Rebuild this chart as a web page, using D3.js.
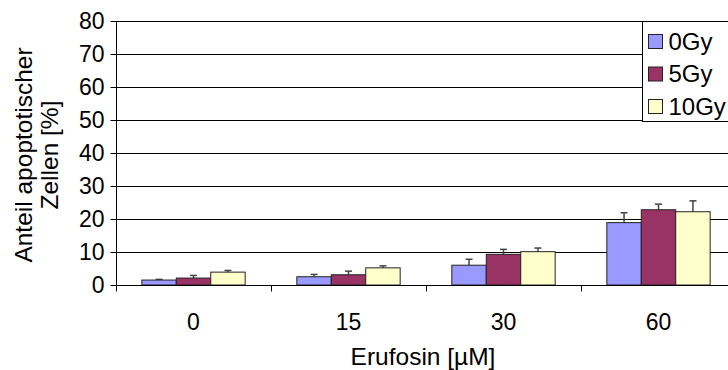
<!DOCTYPE html>
<html>
<head>
<meta charset="utf-8">
<script src="https://cdn.jsdelivr.net/npm/d3@7"></script>
<style>
  body { margin: 0; background: #fff; }
  svg text { font-family: "Liberation Sans", Arial, sans-serif; fill: #000; }
</style>
</head>
<body>
<svg id="chart" width="728" height="370"></svg>
<script>
var categories = ["0", "15", "30", "60"];
var seriesNames = ["0Gy", "5Gy", "10Gy"];
var seriesColors = ["#9999ff", "#993366", "#ffffcc"];
// mean values per series, one entry per category
var values0 = [1.5, 2.5, 6.0, 18.9];
var values5 = [2.1, 3.1, 9.3, 22.8];
var values10 = [3.9, 5.2, 10.1, 22.2];
// upper end of the error bars
var err0 = [1.7, 3.2, 7.8, 21.9];
var err5 = [2.9, 4.2, 10.8, 24.5];
var err10 = [4.4, 5.8, 11.2, 25.5];
var yTicks = [0, 10, 20, 30, 40, 50, 60, 70, 80];

var margin = {top: 21, left: 116},
  plotW = 620, plotH = 264;

var svg = d3.select("#chart");
var g = svg.append("g").attr("transform", "translate(" + margin.left + "," + margin.top + ")");

var x = d3.scaleBand().domain(categories).range([0, plotW]).paddingInner(0).paddingOuter(0);
// gap width 150%: 0.75 bar width on each side of a group
var x1 = d3.scaleBand().domain(seriesNames).range([0, x.bandwidth()]).paddingInner(0).paddingOuter(0.75);
var y = d3.scaleLinear().domain([0, 80]).range([plotH, 0]);

// gridlines
g.append("g").selectAll("line").data(yTicks.slice(1)).enter().append("line")
  .attr("x1", 0).attr("x2", plotW)
  .attr("y1", function(d) { return Math.round(y(d)) + 0.5; })
  .attr("y2", function(d) { return Math.round(y(d)) + 0.5; })
  .attr("stroke", "#000").attr("stroke-width", 1);

var series = [values0, values5, values10];
var errs = [err0, err5, err10];
var rows = [];
categories.forEach(function(c, i) {
  seriesNames.forEach(function(s, j) {
    rows.push({cat: c, s: s, v: series[j][i], e: errs[j][i], color: seriesColors[j]});
  });
});

// error bars (drawn behind bars, only upper part visible)
var eb = g.append("g").selectAll("g").data(rows).enter().append("g")
  .attr("stroke", "#444").attr("stroke-width", 1.5);
eb.append("line")
  .attr("x1", function(d) { return x(d.cat) + x1(d.s) + x1.bandwidth() / 2; })
  .attr("x2", function(d) { return x(d.cat) + x1(d.s) + x1.bandwidth() / 2; })
  .attr("y1", function(d) { return y(d.v); })
  .attr("y2", function(d) { return y(d.e); });
eb.append("line")
  .attr("x1", function(d) { return x(d.cat) + x1(d.s) + x1.bandwidth() / 2 - 3.5; })
  .attr("x2", function(d) { return x(d.cat) + x1(d.s) + x1.bandwidth() / 2 + 3.5; })
  .attr("y1", function(d) { return y(d.e); })
  .attr("y2", function(d) { return y(d.e); });

// bars
g.append("g").selectAll("rect").data(rows).enter().append("rect")
  .attr("x", function(d) { return x(d.cat) + x1(d.s); })
  .attr("y", function(d) { return y(d.v); })
  .attr("width", x1.bandwidth())
  .attr("height", function(d) { return y(0) - y(d.v); })
  .attr("fill", function(d) { return d.color; })
  .attr("stroke", "#222").attr("stroke-width", 1);

// y axis
var yAxis = d3.axisLeft(y).tickValues(yTicks).tickSize(6).tickPadding(6);
var ya = g.append("g").attr("transform", "translate(0.5,0)").call(yAxis);
ya.selectAll("path, line").attr("stroke", "#000");
ya.select(".domain").attr("d", "M0," + plotH + "V0");
ya.selectAll(".tick text").attr("font-size", 23).attr("font-family", "Liberation Sans, Arial, sans-serif").attr("fill", "#000");

// x axis
var xa = g.append("g").attr("transform", "translate(0," + (plotH + 0.5) + ")");
xa.append("line").attr("x1", 0).attr("x2", plotW).attr("stroke", "#000");
xa.selectAll(".xt").data(categories.concat(["end"])).enter().append("line")
  .attr("x1", function(d, i) { return Math.round(i * x.bandwidth()) + 0.5; })
  .attr("x2", function(d, i) { return Math.round(i * x.bandwidth()) + 0.5; })
  .attr("y1", 0).attr("y2", 6).attr("stroke", "#000");
xa.selectAll("text").data(categories).enter().append("text")
  .attr("x", function(d) { return x(d) + x.bandwidth() / 2; })
  .attr("y", 44.5).attr("text-anchor", "middle").attr("font-size", 23)
  .text(function(d) { return d; });

svg.append("text").attr("x", margin.left + 2 * x.bandwidth() - 3).attr("y", 365)
  .attr("text-anchor", "middle").attr("font-size", 24.5).text("Erufosin [µM]");

var yt = svg.append("text").attr("transform", "translate(32,155) rotate(-90)")
  .attr("text-anchor", "middle").attr("font-size", 24.5);
yt.append("tspan").attr("x", 0).attr("dy", 0).text("Anteil apoptotischer");
yt.append("tspan").attr("x", 0).attr("dy", 26).text("Zellen [%]");

// legend
var lg = svg.append("g").attr("transform", "translate(642.5,21.5)");
lg.append("rect").attr("width", 100).attr("height", 100).attr("fill", "#fff").attr("stroke", "#000");
var li = lg.selectAll(".li").data(seriesNames).enter().append("g")
  .attr("transform", function(d, i) { return "translate(6," + (13 + i * 32.5) + ")"; });
li.append("rect").attr("width", 14).attr("height", 14)
  .attr("fill", function(d, i) { return seriesColors[i]; }).attr("stroke", "#222");
li.append("text").attr("x", 20).attr("y", 15).attr("font-size", 24).text(function(d) { return d; });
</script>
</body>
</html>
